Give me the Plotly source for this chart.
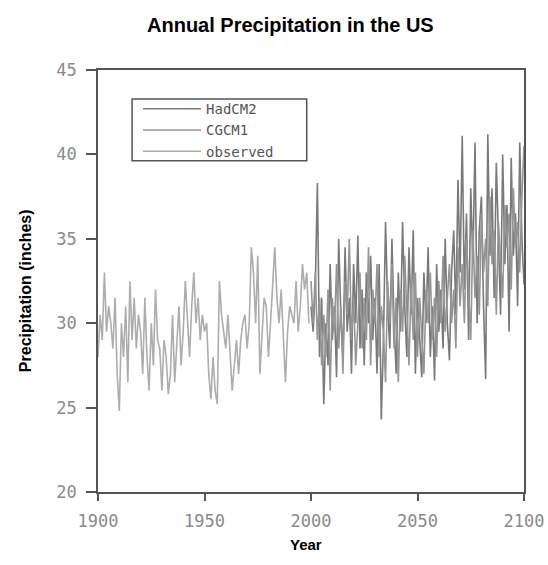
import plotly.graph_objects as go

obs_years = list(range(1900, 2000))
observed = [28.0, 30.5, 29.0, 33.0, 29.5, 31.0, 30.0, 28.5, 31.5, 27.0,
            24.8, 30.0, 28.0, 31.0, 26.5, 32.5, 29.0, 31.5, 28.5, 30.5,
            29.5, 27.0, 31.5, 28.0, 26.0, 30.0, 27.5, 32.0, 29.0, 28.5,
            26.0, 29.0, 28.0, 25.8, 27.0, 30.5, 26.5, 29.0, 31.0, 27.5,
            29.5, 32.5, 30.5, 28.0, 31.0, 33.0, 30.0, 31.5, 29.0, 30.5,
            29.5, 30.0, 27.0, 25.5, 28.0, 26.0, 25.2, 32.5, 30.5, 29.5,
            28.5, 30.5, 28.0, 26.0, 27.5, 29.0, 27.0, 29.0, 30.0, 30.5,
            28.5, 30.0, 34.5, 33.0, 30.0, 34.0, 27.0, 29.5, 31.5, 31.0,
            28.0, 30.0, 32.5, 34.5, 31.5, 30.0, 32.0, 29.0, 26.5, 29.5,
            31.0, 30.5, 30.0, 32.5, 29.5, 31.0, 33.5, 32.0, 33.0, 30.0]

model_years = list(range(2000, 2101))
hadcm2 = [31.0, 29.5, 32.0, 38.3, 28.0, 31.5, 25.2, 30.0, 27.5, 33.5,
          29.0, 31.0, 26.8, 35.0, 30.5, 28.0, 34.5, 29.5, 31.5, 27.0,
          33.5, 30.0, 35.2, 28.5, 32.0, 27.5, 33.0, 30.0, 34.0, 29.0,
          31.5, 27.0, 33.5, 24.3, 29.0, 36.0, 31.0, 28.5, 35.0, 30.0,
          27.0, 33.0, 29.5, 36.0, 31.0, 28.0, 34.5, 30.5, 35.5, 27.0,
          31.5, 29.0, 26.8, 33.0, 30.0, 34.5, 28.0, 31.0, 26.6, 33.5,
          29.5, 32.0, 28.5, 35.0, 30.0, 27.8, 33.0, 35.5, 30.5, 38.5,
          33.0, 41.1, 32.0, 36.5, 29.0, 38.0, 33.5, 40.7, 30.0, 35.5,
          37.5, 31.0, 26.7, 41.2, 34.0, 38.0, 31.5, 39.5, 35.0, 30.5,
          40.0, 33.5, 37.0, 29.5, 39.8, 34.0, 36.5, 31.0, 40.7, 35.0,
          32.3]
cgcm1 = [32.5, 30.0, 33.0, 29.0, 31.5, 27.5, 30.5, 28.0, 32.0, 26.0,
         31.5, 29.5, 33.5, 28.5, 31.0, 27.0, 32.5, 30.5, 35.0, 29.0,
         31.5, 27.5, 30.0, 33.0, 28.5, 31.5, 29.0, 34.5, 27.5, 32.0,
         30.0, 33.5, 28.0, 31.0, 29.5, 26.5, 32.5, 30.0, 33.5, 28.5,
         31.5, 26.5, 32.0, 29.5, 34.0, 30.5, 27.5, 32.5, 29.0, 33.0,
         28.0, 31.5, 29.5, 27.0, 32.0, 30.0, 33.0, 29.0, 31.5, 28.0,
         32.5, 30.0, 34.0, 29.5, 31.5, 33.5, 30.0, 32.0, 28.5, 34.5,
         31.0, 33.5, 30.0, 35.0, 32.0, 29.0, 35.5, 31.5, 34.0, 30.5,
         36.5, 33.0, 35.0, 31.0, 37.5, 33.5, 35.5, 30.5, 36.0, 34.0,
         31.5, 37.0, 34.5, 36.5, 32.0, 38.0, 34.5, 36.0, 33.0, 37.5,
         40.5]

x_ticks = [1900, 1950, 2000, 2050, 2100]
y_ticks = [20, 25, 30, 35, 40, 45]

mono = "DejaVu Sans Mono, Liberation Mono, monospace"
sans = "Liberation Sans, Arial, sans-serif"

fig = go.Figure()
fig.add_trace(go.Scatter(x=model_years, y=hadcm2, name="HadCM2", mode="lines",
                         line=dict(color="#7a7a7a", width=1.6)))
fig.add_trace(go.Scatter(x=model_years, y=cgcm1, name="CGCM1", mode="lines",
                         line=dict(color="#959595", width=1.6)))
fig.add_trace(go.Scatter(x=obs_years, y=observed, name="observed", mode="lines",
                         line=dict(color="#adadad", width=1.6)))

axis_common = dict(showgrid=False, zeroline=False, showline=True, linecolor="#555555",
                   linewidth=1.5, mirror=True, ticks="outside", tickcolor="#555555",
                   tickwidth=1.5, automargin=False,
                   tickfont=dict(family=mono, size=17, color="#8a8a8a"))

fig.update_layout(
    width=548, height=565,
    margin=dict(l=98, r=24, t=70, b=73),
    paper_bgcolor="white", plot_bgcolor="white",
    showlegend=True,
    legend=dict(x=0.094, y=0.945, xanchor="left", yanchor="top", xref="paper",
                borderwidth=0, bgcolor="rgba(255,255,255,0)",
                font=dict(family=mono, size=14, color="#555555"),
                itemwidth=58, tracegroupgap=0),
    xaxis=dict(range=[1900, 2100], tickvals=x_ticks, ticklen=7, ticklabelstandoff=6,
               **axis_common),
    yaxis=dict(range=[20, 45], tickvals=y_ticks, ticklen=10, ticklabelstandoff=6,
               **axis_common),
    shapes=[dict(type="rect", xref="paper", yref="paper",
                 x0=0.08, x1=0.49, y0=0.785, y1=0.931,
                 line=dict(color="#555555", width=1.5), fillcolor="rgba(0,0,0,0)")],
    annotations=[
        dict(text="<b>Annual Precipitation in the US</b>", xref="paper", yref="paper",
             x=0.451, y=1, yshift=45, showarrow=False, xanchor="center", yanchor="middle",
             font=dict(family=sans, size=20, color="black")),
        dict(text="<b>Precipitation (inches)</b>", xref="paper", yref="paper",
             x=0, xshift=-73, y=0.476, textangle=-90, showarrow=False,
             xanchor="center", yanchor="middle",
             font=dict(family=sans, size=16, color="black")),
        dict(text="<b>Year</b>", xref="paper", yref="paper",
             x=0.488, y=0, yshift=-52, showarrow=False, xanchor="center", yanchor="middle",
             font=dict(family=sans, size=15, color="black")),
    ],
)

fig.write_html("out.html", config={"displayModeBar": False},
               post_script="document.body.style.margin='0';document.body.style.padding='0';")
